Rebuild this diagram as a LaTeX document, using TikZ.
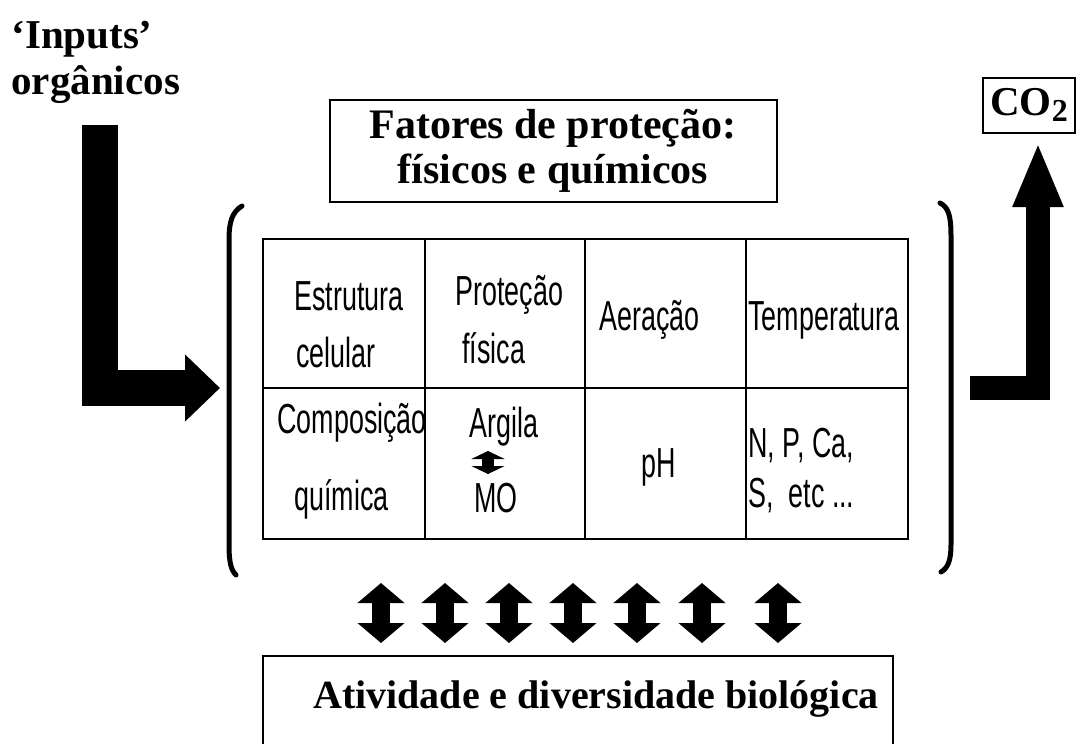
\documentclass[tikz,border=0pt]{standalone}
\usepackage{fontspec}
\setmainfont{Liberation Serif}
\newfontfamily\condfont[FakeStretch=0.64]{Liberation Sans}
\usetikzlibrary{arrows.meta}

\begin{document}
\begin{tikzpicture}[x=0.5pt,y=-0.5pt]
    \tikzstyle{title}=[font=\fontsize{20.5}{23}\selectfont\bfseries, inner sep=0]
    \tikzstyle{cell}=[font=\condfont\fontsize{21}{23}\selectfont, anchor=base west, inner sep=0]
    \tikzstyle{box}=[draw, line width=1pt]
    \tikzstyle{bracket}=[line width=2.5pt, line cap=round]
    \tikzstyle{dblarrow}=[line width=9pt, {Triangle[width=23pt,length=10pt]}-{Triangle[width=23pt,length=10pt]}]
    \useasboundingbox (0,0) rectangle (1078,744);
    \clip (0,0) rectangle (1078,744);
    % labels outside
    \node[title, align=left, anchor=north west] (inputs) at (11,21) {‘Inputs’\\orgânicos};
    \node[title, box, minimum width=223.5pt, minimum height=51pt, align=center, font=\fontsize{21}{22.5}\selectfont\bfseries] (fatores) at (553,151)
        {Fatores de proteção:\\físicos e químicos};
    \node[title, box, minimum width=46pt, minimum height=27.5pt] (co2) at (1029,105) {CO\raisebox{-0.3ex}{\fontsize{16}{16}\selectfont 2}};
    % big arrows in and out
    \coordinate (inTop) at (100,125);
    \coordinate (inEnd) at (220,388);
    \draw[line width=18pt, -{Triangle[width=32.5pt,length=17.5pt]}] (inTop) |- (inEnd);
    \coordinate (outStart) at (970,388);
    \coordinate (outEnd) at (1038,142);
    \draw[line width=12pt, -{Triangle[width=23pt,length=32.5pt]}] (outStart) -| (outEnd);
    % brackets
    \draw[bracket] (242,206) .. controls (232,212) and (229,222) .. (229,240) -- (229,545)
        .. controls (229,562) and (231,570) .. (236,575);
    \draw[bracket] (940,203) .. controls (948,207) and (951,215) .. (951,235) -- (951,545)
        .. controls (951,560) and (948,568) .. (941,572);
    % table
    \draw[line width=1.2pt] (263,239) rectangle (908,539);
    \draw[line width=1.2pt] (263,388) -- (908,388);
    \foreach \x in {425,585,746}
        \draw[line width=1.2pt] (\x,239) -- (\x,539);
    \node[cell] (estr) at (294,310) {Estrutura};
    \node[cell] (cel) at (296,367) {celular};
    \node[cell] (prot) at (455,305) {Proteção};
    \node[cell] (fis) at (462,363) {física};
    \node[cell] (aer) at (599,330) {Aeração};
    \node[cell] (temp) at (748,330) {Temperatura};
    \node[cell] (comp) at (277,433) {Composição};
    \node[cell] (quim) at (294,510) {química};
    \node[cell] (arg) at (469,437) {Argila};
    \node[cell] (mo) at (474,512) {MO};
    \node[cell] (ph) at (641,477) {pH};
    \node[cell] (npca) at (748,457) {N, P, Ca,};
    \node[cell] (setc) at (748,507) {S,\ \ etc ...};
    \coordinate (argTop) at (488,451);
    \coordinate (argBot) at (488,474);
    \draw[line width=6pt, {Triangle[width=16.5pt,length=4pt]}-{Triangle[width=16.5pt,length=4pt]}] (argBot) -- (argTop);
    % arrows to the biological activity
    \foreach \x in {381,445,509,573,637,702,778}
        \draw[dblarrow] (\x,643) -- (\x,583);
    \draw[line width=1pt] (263,760) -- (263,656) -- (893,656) -- (893,760);
    \node[title, anchor=base, font=\fontsize{20}{23}\selectfont\bfseries] (bio) at (596,708) {Atividade e diversidade biológica};
\end{tikzpicture}
\end{document}
